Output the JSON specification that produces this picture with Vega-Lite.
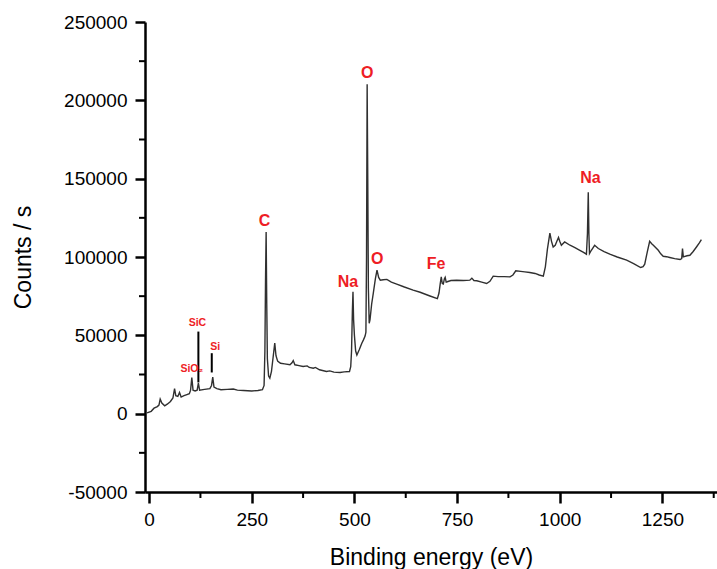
{
  "$schema": "https://vega.github.io/schema/vega-lite/v6.json",
  "width": 572,
  "height": 470,
  "autosize": {"type": "none"},
  "padding": {"left": 145, "top": 22, "right": 0, "bottom": 77},
  "background": "white",
  "config": {"view": {"stroke": null}, "font": "Liberation Sans"},
  "datasets": {
    "spectrum": [
      {"be": -5, "counts": 500}, {"be": 5, "counts": 1500}, {"be": 12, "counts": 3500}, {"be": 20, "counts": 4500},
      {"be": 24, "counts": 5500}, {"be": 27, "counts": 9300}, {"be": 31, "counts": 6800}, {"be": 38, "counts": 5000},
      {"be": 45, "counts": 6200}, {"be": 52, "counts": 7800}, {"be": 58, "counts": 10000}, {"be": 62, "counts": 16000},
      {"be": 65, "counts": 11500}, {"be": 70, "counts": 11000}, {"be": 74, "counts": 13500}, {"be": 78, "counts": 10600},
      {"be": 85, "counts": 11500}, {"be": 92, "counts": 12200}, {"be": 98, "counts": 12800}, {"be": 101, "counts": 15000},
      {"be": 104, "counts": 23000}, {"be": 107, "counts": 15000}, {"be": 112, "counts": 14500}, {"be": 117, "counts": 15000},
      {"be": 120, "counts": 19500}, {"be": 123, "counts": 15000}, {"be": 135, "counts": 15500}, {"be": 148, "counts": 16000},
      {"be": 152, "counts": 18000}, {"be": 155, "counts": 23300}, {"be": 158, "counts": 17000}, {"be": 165, "counts": 16000},
      {"be": 175, "counts": 15300}, {"be": 190, "counts": 15500}, {"be": 205, "counts": 15700}, {"be": 215, "counts": 15000},
      {"be": 230, "counts": 14800}, {"be": 250, "counts": 14500}, {"be": 265, "counts": 14800}, {"be": 276, "counts": 15300},
      {"be": 280, "counts": 18000}, {"be": 282, "counts": 40000}, {"be": 283.5, "counts": 85000}, {"be": 285, "counts": 116000},
      {"be": 286.5, "counts": 70000}, {"be": 288, "counts": 35000}, {"be": 291, "counts": 24000}, {"be": 294, "counts": 22700},
      {"be": 298, "counts": 27000}, {"be": 302, "counts": 36000}, {"be": 306, "counts": 45000}, {"be": 309, "counts": 37000},
      {"be": 313, "counts": 33500}, {"be": 320, "counts": 32200}, {"be": 330, "counts": 31800}, {"be": 343, "counts": 31200},
      {"be": 348, "counts": 32500}, {"be": 351, "counts": 33900}, {"be": 355, "counts": 31200}, {"be": 365, "counts": 30700},
      {"be": 375, "counts": 30100}, {"be": 385, "counts": 30500}, {"be": 390, "counts": 29500}, {"be": 400, "counts": 29000},
      {"be": 405, "counts": 29500}, {"be": 415, "counts": 28000}, {"be": 432, "counts": 26900}, {"be": 440, "counts": 27300},
      {"be": 450, "counts": 26500}, {"be": 465, "counts": 26300}, {"be": 475, "counts": 26700}, {"be": 488, "counts": 26900},
      {"be": 491, "counts": 30000}, {"be": 493, "counts": 40000}, {"be": 495, "counts": 65000}, {"be": 496.5, "counts": 77800},
      {"be": 498, "counts": 60000}, {"be": 500, "counts": 50000}, {"be": 503, "counts": 40000}, {"be": 506, "counts": 37500},
      {"be": 512, "counts": 41000}, {"be": 518, "counts": 45000}, {"be": 522, "counts": 47100}, {"be": 526, "counts": 49500},
      {"be": 528, "counts": 52000}, {"be": 529.5, "counts": 100000}, {"be": 531, "counts": 210300}, {"be": 532.5, "counts": 150000},
      {"be": 534, "counts": 80000}, {"be": 536, "counts": 57700}, {"be": 538, "counts": 60000}, {"be": 542, "counts": 70000},
      {"be": 546, "counts": 77000}, {"be": 551, "counts": 86000}, {"be": 555, "counts": 91600}, {"be": 559, "counts": 87000},
      {"be": 563, "counts": 85200}, {"be": 570, "counts": 85500}, {"be": 579, "counts": 85700}, {"be": 590, "counts": 84000},
      {"be": 603, "counts": 82700}, {"be": 620, "counts": 81000}, {"be": 643, "counts": 78900}, {"be": 660, "counts": 77500},
      {"be": 684, "counts": 75100}, {"be": 702, "counts": 73400}, {"be": 706, "counts": 77000}, {"be": 709, "counts": 83000},
      {"be": 711.5, "counts": 87300}, {"be": 714, "counts": 83000}, {"be": 716.5, "counts": 82700}, {"be": 719, "counts": 86000},
      {"be": 721, "counts": 87000}, {"be": 723.5, "counts": 84000}, {"be": 726, "counts": 84200}, {"be": 735, "counts": 85000},
      {"be": 749, "counts": 85200}, {"be": 765, "counts": 85000}, {"be": 781, "counts": 85200}, {"be": 786, "counts": 86500},
      {"be": 791, "counts": 85000}, {"be": 798, "counts": 84800}, {"be": 810, "counts": 84000}, {"be": 822, "counts": 83100},
      {"be": 830, "counts": 84500}, {"be": 838, "counts": 87800}, {"be": 850, "counts": 87500}, {"be": 865, "counts": 87500},
      {"be": 879, "counts": 87300}, {"be": 886, "counts": 88500}, {"be": 893, "counts": 91200}, {"be": 905, "counts": 90800},
      {"be": 915, "counts": 90500}, {"be": 927, "counts": 90100}, {"be": 940, "counts": 89500}, {"be": 950, "counts": 88500},
      {"be": 960, "counts": 87800}, {"be": 965, "counts": 93700}, {"be": 970, "counts": 105000}, {"be": 976, "counts": 115300},
      {"be": 980, "counts": 110000}, {"be": 984, "counts": 106400}, {"be": 989, "counts": 107500}, {"be": 993, "counts": 110000},
      {"be": 997, "counts": 112400}, {"be": 1000, "counts": 110000}, {"be": 1004, "counts": 107500}, {"be": 1012, "counts": 109600},
      {"be": 1025, "counts": 107500}, {"be": 1037, "counts": 106000}, {"be": 1049, "counts": 104300}, {"be": 1058, "counts": 103000},
      {"be": 1065, "counts": 101800}, {"be": 1067.5, "counts": 115000}, {"be": 1069.5, "counts": 141400}, {"be": 1071, "counts": 115000},
      {"be": 1072.5, "counts": 102200}, {"be": 1077, "counts": 104300}, {"be": 1085, "counts": 107500}, {"be": 1094, "counts": 105400},
      {"be": 1108, "counts": 103500}, {"be": 1122, "counts": 101800}, {"be": 1140, "counts": 100000}, {"be": 1163, "counts": 98000},
      {"be": 1180, "counts": 95800}, {"be": 1197, "counts": 93300}, {"be": 1203, "counts": 93800}, {"be": 1207, "counts": 95400},
      {"be": 1213, "counts": 103000}, {"be": 1219, "counts": 110000}, {"be": 1224, "counts": 108500}, {"be": 1228, "counts": 107500},
      {"be": 1240, "counts": 104300}, {"be": 1246, "counts": 102000}, {"be": 1252, "counts": 100500}, {"be": 1260, "counts": 100200},
      {"be": 1268, "counts": 99700}, {"be": 1280, "counts": 99000}, {"be": 1293, "counts": 98400}, {"be": 1297, "counts": 99000},
      {"be": 1299, "counts": 105400}, {"be": 1301, "counts": 100100}, {"be": 1310, "counts": 100800}, {"be": 1317, "counts": 101100},
      {"be": 1325, "counts": 103500}, {"be": 1333, "counts": 106400}, {"be": 1340, "counts": 109000}, {"be": 1345, "counts": 111100}
    ],
    "labels": [
      {"be": 531, "counts": 217500, "text": "O", "group": "major"},
      {"be": 281, "counts": 122800, "text": "C", "group": "major"},
      {"be": 484, "counts": 83800, "text": "Na", "group": "major"},
      {"be": 555.5, "counts": 98800, "text": "O", "group": "major"},
      {"be": 698.6, "counts": 95600, "text": "Fe", "group": "major"},
      {"be": 1075, "counts": 150700, "text": "Na", "group": "major"},
      {"be": 117.6, "counts": 58100, "text": "SiC", "group": "minor"},
      {"be": 160.7, "counts": 42800, "text": "Si", "group": "minor"},
      {"be": 104, "counts": 28400, "text": "SiO₂", "group": "minor"}
    ],
    "markers": [
      {"be": 120, "counts": 19900, "counts2": 52400},
      {"be": 152.6, "counts": 26300, "counts2": 38600}
    ],
    "xminor": [
      {"be": 125, "counts": -50000}, {"be": 375, "counts": -50000}, {"be": 625, "counts": -50000},
      {"be": 875, "counts": -50000}, {"be": 1125, "counts": -50000}, {"be": 1375, "counts": -50000}
    ],
    "yminor": [
      {"be": -10, "counts": -25000}, {"be": -10, "counts": 25000}, {"be": -10, "counts": 75000},
      {"be": -10, "counts": 125000}, {"be": -10, "counts": 175000}, {"be": -10, "counts": 225000}
    ]
  },
  "resolve": {"axis": {"x": "independent", "y": "independent"}},
  "layer": [
    {
      "data": {"name": "spectrum"},
      "mark": {"type": "line", "color": "#303030", "strokeWidth": 1.4, "interpolate": "linear"},
      "encoding": {
        "x": {
          "field": "be", "type": "quantitative",
          "scale": {"domain": [-10, 1383], "nice": false, "zero": false},
          "axis": {
            "orient": "bottom", "values": [0, 250, 500, 750, 1000, 1250],
            "labelExpr": "'' + datum.value",
            "grid": false, "domainColor": "black", "domainWidth": 2.5,
            "tickColor": "black", "tickWidth": 2.5, "tickSize": 11,
            "labelFontSize": 19, "labelColor": "black", "labelPadding": 7, "labelFont": "Liberation Sans",
            "title": "Binding energy (eV)", "titleFontSize": 23, "titleFontWeight": "normal",
            "titleColor": "black", "titleFont": "Liberation Sans", "titlePadding": 17
          }
        },
        "y": {
          "field": "counts", "type": "quantitative",
          "scale": {"domain": [-50000, 250000], "nice": false, "zero": false},
          "axis": {
            "orient": "left", "values": [-50000, 0, 50000, 100000, 150000, 200000, 250000],
            "labelExpr": "'' + datum.value",
            "grid": false, "domainColor": "black", "domainWidth": 2.5,
            "tickColor": "black", "tickWidth": 2.5, "tickSize": 10,
            "labelFontSize": 19, "labelColor": "black", "labelPadding": 8, "labelFont": "Liberation Sans",
            "title": "Counts / s", "titleFontSize": 23, "titleFontWeight": "normal",
            "titleColor": "black", "titleFont": "Liberation Sans", "titlePadding": 28
          }
        }
      }
    },
    {
      "data": {"name": "xminor"},
      "mark": {"type": "point", "shape": "M0,0V2", "size": 36, "filled": false, "stroke": "black", "strokeWidth": 2, "opacity": 1, "clip": false},
      "encoding": {
        "x": {"field": "be", "type": "quantitative", "axis": null},
        "y": {"field": "counts", "type": "quantitative", "axis": null}
      }
    },
    {
      "data": {"name": "yminor"},
      "mark": {"type": "point", "shape": "M0,0H-2", "size": 36, "filled": false, "stroke": "black", "strokeWidth": 2, "opacity": 1, "clip": false},
      "encoding": {
        "x": {"field": "be", "type": "quantitative", "axis": null},
        "y": {"field": "counts", "type": "quantitative", "axis": null}
      }
    },
    {
      "data": {"name": "markers"},
      "mark": {"type": "rule", "color": "black", "strokeWidth": 2},
      "encoding": {
        "x": {"field": "be", "type": "quantitative", "axis": null},
        "y": {"field": "counts", "type": "quantitative", "axis": null},
        "y2": {"field": "counts2"}
      }
    },
    {
      "data": {"name": "labels"},
      "transform": [{"filter": "datum.group === 'major'"}],
      "mark": {"type": "text", "color": "#ee1d25", "font": "Liberation Sans", "fontWeight": "bold", "fontSize": 16, "align": "center", "baseline": "middle"},
      "encoding": {
        "x": {"field": "be", "type": "quantitative", "axis": null},
        "y": {"field": "counts", "type": "quantitative", "axis": null},
        "text": {"field": "text"}
      }
    },
    {
      "data": {"name": "labels"},
      "transform": [{"filter": "datum.group === 'minor'"}],
      "mark": {"type": "text", "color": "#ee1d25", "font": "Liberation Sans", "fontWeight": "bold", "fontSize": 10.5, "align": "center", "baseline": "middle"},
      "encoding": {
        "x": {"field": "be", "type": "quantitative", "axis": null},
        "y": {"field": "counts", "type": "quantitative", "axis": null},
        "text": {"field": "text"}
      }
    }
  ]
}
